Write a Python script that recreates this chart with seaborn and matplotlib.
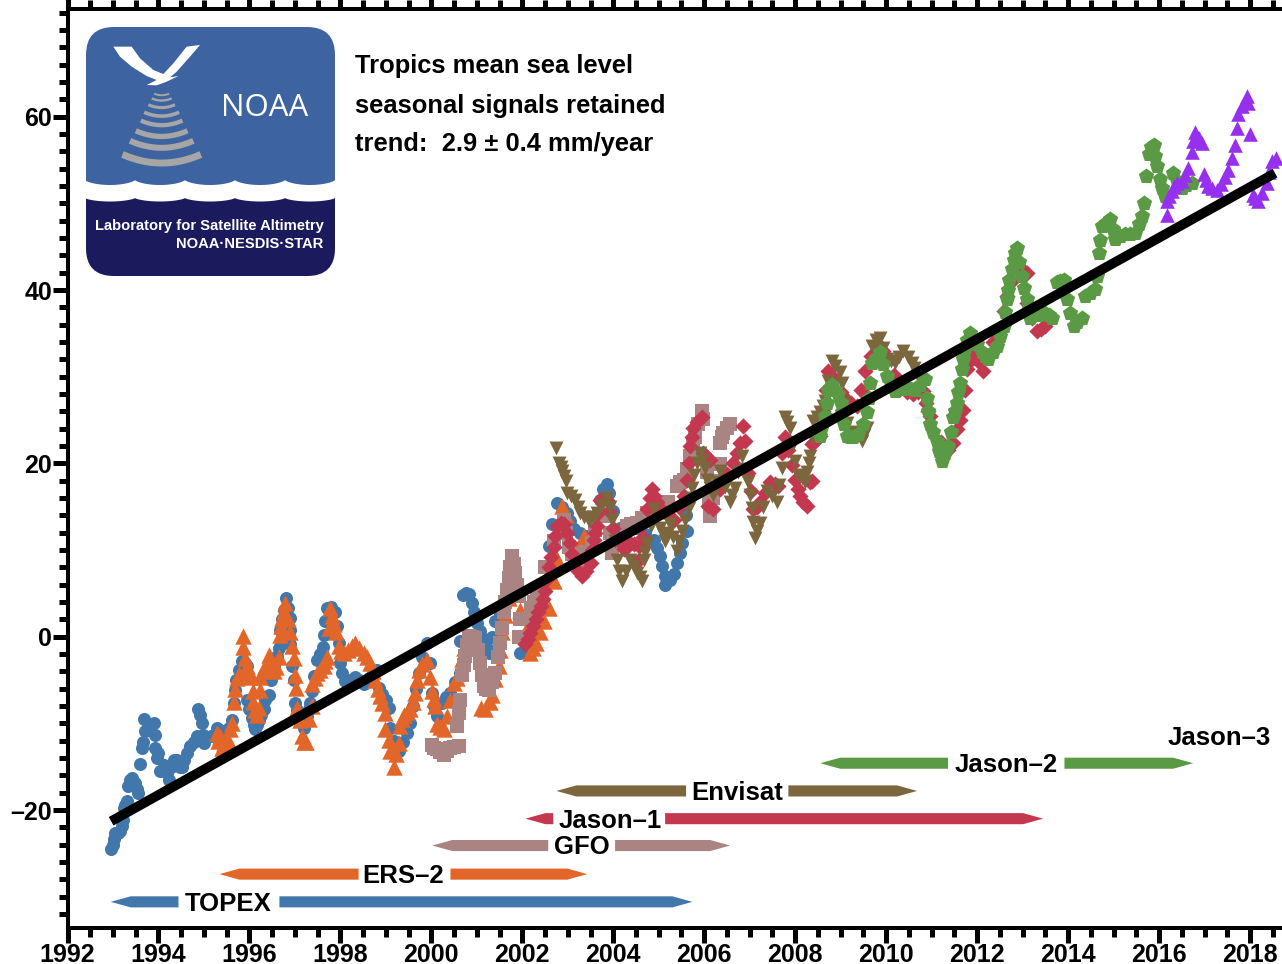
import numpy as np
import matplotlib
matplotlib.use("Agg")
import matplotlib.pyplot as plt
from matplotlib.patches import FancyBboxPatch, Polygon
from matplotlib.ticker import FixedLocator, FixedFormatter
import seaborn as sns

# ---------- data: (year, mm) ----------
topex = [(1992.96,-24.5),(1992.99,-24.0),(1993.02,-23.4),(1993.05,-22.6),(1993.10,-22.6),(1993.16,-22.4),(1993.20,-21.8),(1993.22,-21.2),(1993.24,-19.8),(1993.27,-19.4),(1993.31,-19.0),(1993.34,-17.2),(1993.37,-16.5),(1993.41,-16.3),(1993.45,-16.6),(1993.49,-16.9),(1993.53,-17.6),(1993.56,-18.0),(1993.60,-14.7),(1993.63,-12.8),(1993.66,-12.1),(1993.68,-9.5),(1993.71,-10.9),(1993.78,-10.4),(1993.91,-10.0),(1993.93,-11.3),(1993.93,-12.8),(1993.98,-13.4),(1993.97,-14.0),(1994.04,-15.5),(1994.12,-14.8),(1994.19,-15.7),(1994.23,-16.5),(1994.27,-15.0),(1994.34,-14.2),(1994.41,-14.2),(1994.47,-15.0),(1994.52,-15.0),(1994.56,-14.2),(1994.63,-13.4),(1994.70,-12.6),(1994.78,-12.1),(1994.85,-11.5),(1994.99,-11.3),(1995.01,-12.3),(1994.96,-10.0),(1994.91,-9.0),(1994.86,-8.4),(1995.15,-11.5),(1995.29,-10.5),(1995.36,-10.8),(1995.44,-11.5),(1995.55,-10.5),(1995.62,-9.6),(1995.66,-7.7),(1995.69,-6.1),(1995.71,-5.0),(1995.76,-3.8),(1995.84,-2.8),(1995.90,-3.0),(1995.95,-3.4),(1995.95,-7.3),(1996.00,-8.4),(1996.06,-9.4),(1996.10,-10.2),(1996.13,-10.7),(1996.17,-10.2),(1996.20,-9.6),(1996.26,-9.0),(1996.31,-8.4),(1996.35,-7.3),(1996.42,-6.7),(1996.48,-5.0),(1996.53,-3.4),(1996.60,-2.2),(1996.65,-1.3),(1996.68,0.8),(1996.71,2.0),(1996.75,3.1),(1996.80,4.5),(1996.85,3.3),(1996.90,2.2),(1996.90,0.8),(1996.90,-0.9),(1996.94,-3.4),(1996.97,-5.0),(1997.00,-7.65),(1997.04,-8.5),(1997.08,-9.2),(1997.13,-9.9),(1997.19,-10.5),(1997.23,-9.9),(1997.27,-9.2),(1997.30,-8.4),(1997.34,-7.65),(1997.38,-6.3),(1997.42,-4.5),(1997.49,-2.65),(1997.55,-2.0),(1997.62,-1.2),(1997.63,0.25),(1997.66,1.8),(1997.71,3.3),(1997.80,3.4),(1997.89,2.9),(1997.93,1.2),(1997.96,-0.7),(1998.00,-3.0),(1998.04,-4.2),(1998.11,-5.1),(1998.20,-5.0),(1998.33,-4.6),(1998.42,-5.0),(1998.51,-5.5),(1998.62,-4.8),(1998.72,-4.2),(1998.81,-3.8),(1998.84,-5.9),(1998.92,-6.6),(1999.00,-7.3),(1999.06,-8.2),(1999.10,-10.5),(1999.18,-12.0),(1999.28,-13.2),(1999.38,-12.2),(1999.47,-11.1),(1999.54,-10.0),(1999.60,-8.0),(1999.66,-6.0),(1999.72,-4.2),(1999.80,-2.4),(1999.90,-0.7),(1999.97,-3.0),(2000.01,-6.5),(2000.06,-8.0),(2000.12,-9.2),(2000.23,-7.65),(2000.32,-7.0),(2000.42,-6.5),(2000.53,-5.2),(2000.64,-4.2),(2000.64,-0.5),(2000.69,4.8),(2000.76,5.0),(2000.83,4.9),(2000.89,3.9),(2000.94,2.8),(2001.00,1.6),(2001.07,0.7),(2001.15,-0.3),(2001.20,-1.1),(2001.26,-1.9),(2001.33,0.0),(2001.41,1.8),(2001.50,2.6),(2001.59,3.5),(2001.66,5.2),(2001.70,7.2),(2001.96,-1.9),(2002.05,-1.4),(2002.15,-0.5),(2002.29,0.8),(2002.40,4.0),(2002.50,8.1),(2002.58,10.5),(2002.66,13.0),(2002.76,15.4),(2002.88,15.0),(2002.98,14.3),(2003.05,13.4),(2003.13,12.4),(2003.27,12.0),(2003.42,11.6),(2003.55,13.5),(2003.70,15.8),(2003.78,17.0),(2003.86,17.6),(2003.90,16.6),(2004.00,14.5),(2004.15,12.6),(2004.34,13.1),(2004.50,12.5),(2004.70,11.8),(2004.89,11.2),(2004.96,10.2),(2005.03,9.3),(2005.08,8.2),(2005.14,7.0),(2005.14,6.0),(2005.24,6.6),(2005.33,7.2),(2005.40,8.5),(2005.46,9.7),(2005.51,10.8),(2005.62,12.2),(2005.60,14.1)]

ers2 = [(1995.29,-11.1),(1995.32,-12.0),(1995.35,-11.5),(1995.40,-12.8),(1995.44,-12.3),(1995.50,-12.3),(1995.55,-12.1),(1995.58,-10.7),(1995.62,-10.0),(1995.66,-7.5),(1995.69,-6.0),(1995.73,-4.8),(1995.78,-4.3),(1995.86,-1.2),(1995.86,0.05),(1995.90,-2.5),(1995.95,-3.4),(1995.99,-4.0),(1996.02,-4.6),(1996.08,-6.3),(1996.08,-7.5),(1996.13,-8.5),(1996.17,-9.0),(1996.20,-8.2),(1996.24,-6.1),(1996.24,-4.6),(1996.30,-4.0),(1996.35,-3.4),(1996.42,-2.1),(1996.42,-3.8),(1996.47,-3.5),(1996.53,-4.0),(1996.58,-3.5),(1996.65,-2.3),(1996.68,0.2),(1996.70,1.2),(1996.72,2.2),(1996.76,3.0),(1996.79,3.9),(1996.85,2.0),(1996.90,0.6),(1996.94,-1.1),(1996.97,-2.5),(1997.01,-4.4),(1997.03,-5.9),(1997.05,-8.2),(1997.12,-9.6),(1997.16,-11.5),(1997.20,-12.1),(1997.25,-12.2),(1997.30,-9.5),(1997.38,-8.0),(1997.38,-5.5),(1997.44,-4.8),(1997.49,-4.2),(1997.56,-3.8),(1997.63,-3.4),(1997.67,-2.8),(1997.71,-2.3),(1997.74,1.0),(1997.78,3.3),(1997.82,2.4),(1997.87,1.5),(1997.91,0.6),(1997.96,-1.1),(1998.02,-1.6),(1998.07,-1.9),(1998.17,-1.5),(1998.25,-1.1),(1998.33,-0.7),(1998.42,-1.3),(1998.51,-1.9),(1998.58,-2.4),(1998.66,-3.0),(1998.72,-4.0),(1998.77,-5.0),(1998.82,-6.0),(1998.88,-6.9),(1998.91,-7.65),(1998.97,-8.8),(1998.99,-10.7),(1999.06,-11.9),(1999.10,-13.2),(1999.17,-15.0),(1999.23,-13.5),(1999.28,-12.3),(1999.30,-10.3),(1999.35,-9.5),(1999.39,-9.0),(1999.46,-8.7),(1999.54,-8.4),(1999.60,-7.5),(1999.65,-6.5),(1999.68,-5.0),(1999.72,-3.8),(1999.80,-3.2),(1999.90,-2.65),(1999.97,-4.6),(2000.01,-6.3),(2000.05,-7.2),(2000.09,-8.0),(2000.12,-10.1),(2000.20,-10.4),(2000.27,-10.7),(2000.34,-9.2),(2000.42,-7.3),(2000.49,-5.3),(2000.57,-4.8),(2000.64,-4.2),(2000.68,-2.6),(2000.71,-1.3),(2001.10,-8.2),(2001.19,-8.4),(2001.28,-7.5),(2001.33,-6.7),(2001.41,-4.9),(2001.48,-3.4),(2001.52,-1.5),(2001.55,0.6),(2001.62,2.5),(2001.70,4.5),(2001.88,5.6),(2001.96,3.1),(2002.05,0.5),(2002.18,-1.9),(2002.23,-1.3),(2002.29,-0.7),(2002.38,0.5),(2002.47,1.8),(2002.58,3.3),(2002.69,6.4),(2002.76,9.0),(2002.82,13.0),(2002.87,15.1),(2002.95,14.0),(2003.20,10.1),(2003.28,10.8),(2003.35,11.6)]

gfo = [(2000.01,-12.5),(2000.06,-12.8),(2000.12,-13.0),(2000.20,-13.3),(2000.27,-13.6),(2000.35,-13.2),(2000.42,-12.8),(2000.50,-12.7),(2000.60,-12.6),(2000.56,-10.3),(2000.60,-8.8),(2000.64,-7.3),(2000.67,-4.4),(2000.71,-3.3),(2000.75,-2.2),(2000.79,-1.0),(2000.82,0.06),(2000.90,0.0),(2000.97,-0.1),(2001.02,-1.5),(2001.08,-3.0),(2001.12,-4.4),(2001.15,-5.7),(2001.20,-6.0),(2001.26,-6.1),(2001.34,-5.2),(2001.41,-4.2),(2001.47,-2.4),(2001.52,-0.7),(2001.55,1.0),(2001.59,2.8),(2001.62,4.0),(2001.66,5.4),(2001.70,6.8),(2001.73,8.0),(2001.77,9.3),(2001.81,8.4),(2001.85,7.4),(2001.89,6.0),(2001.92,4.7),(2001.96,2.0),(2001.92,0.0),(2002.03,2.0),(2002.10,2.0),(2002.20,3.3),(2002.26,4.0),(2002.32,4.9),(2002.50,8.0),(2002.70,11.0),(2002.91,13.5),(2002.97,12.0),(2003.02,10.4),(2003.10,9.6),(2003.18,9.2),(2003.27,8.9),(2003.40,9.8),(2003.53,10.8),(2003.60,12.3),(2003.68,13.9),(2003.77,14.0),(2003.86,13.9),(2003.93,12.0),(2003.97,9.7),(2004.10,11.0),(2004.30,12.8),(2004.40,13.0),(2004.52,13.1),(2004.63,13.7),(2004.74,14.3),(2005.20,15.5),(2005.40,17.4),(2005.47,17.8),(2005.55,18.1),(2005.62,19.4),(2005.69,20.8),(2005.75,22.0),(2005.80,23.1),(2005.87,24.5),(2005.95,26.0),(2005.98,25.1),(2006.05,19.0),(2006.10,15.5),(2006.13,13.9),(2006.20,16.0),(2006.28,18.0),(2006.35,19.9),(2006.35,22.4),(2006.38,23.0),(2006.42,23.5),(2006.50,24.1),(2006.57,24.5)]

jason1 = [(2002.07,-0.9),(2002.12,-0.3),(2002.18,0.4),(2002.23,1.2),(2002.29,2.0),(2002.35,2.8),(2002.40,3.5),(2002.45,4.4),(2002.50,5.3),(2002.54,6.7),(2002.58,8.1),(2002.63,9.2),(2002.69,10.4),(2002.72,11.6),(2002.76,12.8),(2002.84,13.1),(2002.91,13.0),(2002.98,12.0),(2003.05,10.8),(2003.09,9.6),(2003.13,8.5),(2003.22,7.6),(2003.31,7.0),(2003.40,7.6),(2003.50,8.5),(2003.54,10.0),(2003.57,11.2),(2003.60,12.0),(2003.64,12.8),(2003.67,14.3),(2003.71,15.8),(2003.78,15.9),(2003.86,15.8),(2003.90,14.5),(2003.99,12.6),(2004.10,11.2),(2004.23,10.1),(2004.30,10.4),(2004.37,10.8),(2004.46,10.7),(2004.56,10.5),(2004.56,8.9),(2004.65,11.5),(2004.74,14.7),(2004.80,16.0),(2004.85,17.0),(2004.90,16.2),(2004.96,15.5),(2005.10,14.5),(2005.20,14.0),(2005.33,13.5),(2005.45,15.0),(2005.55,16.2),(2005.62,18.1),(2005.66,20.1),(2005.69,22.0),(2005.73,23.0),(2005.76,24.1),(2005.85,24.8),(2005.95,25.3),(2005.98,21.2),(2006.03,20.8),(2006.09,15.1),(2006.13,20.4),(2006.20,14.7),(2006.35,17.0),(2006.50,18.8),(2006.64,20.1),(2006.72,21.2),(2006.79,22.4),(2006.86,24.3),(2006.90,22.6),(2006.97,18.9),(2007.03,16.8),(2007.08,14.7),(2007.15,15.0),(2007.23,15.5),(2007.34,16.6),(2007.45,17.8),(2007.55,17.6),(2007.63,17.4),(2007.71,21.2),(2007.78,23.1),(2007.85,21.5),(2007.92,19.8),(2008.00,18.1),(2008.06,17.1),(2008.11,16.2),(2008.18,15.6),(2008.26,15.1),(2008.33,17.8),(2008.37,18.0),(2008.37,22.2),(2008.40,22.4),(2008.51,23.5),(2008.55,23.2),(2008.62,26.0),(2008.68,28.5),(2008.73,30.7),(2008.85,29.8),(2009.00,28.2),(2009.10,27.6),(2009.23,27.0),(2009.36,26.6),(2009.45,28.5),(2009.54,30.7),(2009.67,32.4),(2009.80,33.9),(2009.93,33.0),(2010.05,32.0),(2010.18,30.2),(2010.31,28.6),(2010.45,28.2),(2010.60,28.0),(2010.71,28.2),(2010.82,28.4),(2010.88,27.0),(2010.93,26.1),(2010.97,25.5),(2011.20,22.5),(2011.35,21.5),(2011.48,22.4),(2011.55,24.0),(2011.63,25.0),(2011.70,26.2),(2011.74,28.5),(2011.77,30.9),(2011.85,31.8),(2011.92,32.8),(2012.02,31.8),(2012.14,30.7),(2012.35,34.0),(2012.58,37.6),(2012.65,39.3),(2012.76,41.0),(2012.87,42.8),(2012.98,42.4),(2013.09,42.0),(2013.09,38.5),(2013.20,36.8),(2013.31,35.3),(2013.40,35.5),(2013.49,35.9)]

envisat = [(2002.75,21.8),(2002.80,20.1),(2002.84,19.6),(2002.87,19.1),(2002.91,18.5),(2002.95,18.0),(2002.98,16.6),(2003.07,16.2),(2003.16,15.8),(2003.22,15.0),(2003.27,14.3),(2003.36,13.8),(2003.46,13.3),(2003.55,13.8),(2003.64,14.3),(2003.75,15.2),(2003.86,16.0),(2003.92,15.0),(2003.97,13.5),(2004.03,11.0),(2004.08,8.9),(2004.13,7.6),(2004.19,6.4),(2004.28,7.6),(2004.37,8.9),(2004.45,8.2),(2004.52,7.4),(2004.58,6.9),(2004.63,6.4),(2004.67,8.9),(2004.70,9.8),(2004.74,10.8),(2004.82,12.8),(2004.89,14.7),(2004.96,13.7),(2005.03,12.6),(2005.09,11.8),(2005.14,11.0),(2005.20,12.0),(2005.25,13.0),(2005.32,11.5),(2005.40,9.9),(2005.45,11.0),(2005.51,12.2),(2005.58,13.5),(2005.66,14.9),(2005.70,16.0),(2005.73,17.2),(2005.77,18.7),(2005.84,20.0),(2005.91,21.2),(2005.96,20.4),(2006.02,19.5),(2006.06,18.1),(2006.13,17.2),(2006.20,16.4),(2006.28,17.8),(2006.35,19.1),(2006.46,17.3),(2006.57,15.5),(2006.62,16.3),(2006.68,17.2),(2006.75,19.0),(2006.83,20.8),(2006.90,19.3),(2006.97,17.8),(2007.01,16.4),(2007.05,14.9),(2007.08,13.2),(2007.12,11.4),(2007.17,12.2),(2007.23,13.1),(2007.30,15.0),(2007.38,16.8),(2007.49,16.2),(2007.60,15.6),(2007.65,17.5),(2007.71,19.5),(2007.78,25.4),(2007.83,24.8),(2007.89,24.1),(2007.95,22.2),(2008.00,20.3),(2008.07,18.7),(2008.15,18.3),(2008.22,17.9),(2008.26,19.0),(2008.30,20.1),(2008.33,20.8),(2008.37,23.0),(2008.40,24.9),(2008.48,25.4),(2008.55,25.9),(2008.61,26.6),(2008.66,27.2),(2008.72,29.5),(2008.80,31.8),(2008.88,31.2),(2008.99,30.5),(2009.03,29.3),(2009.08,27.0),(2009.14,24.7),(2009.30,23.6),(2009.47,22.6),(2009.52,23.3),(2009.58,24.1),(2009.69,33.5),(2009.78,34.2),(2009.87,34.5),(2009.94,33.3),(2010.01,32.0),(2010.10,31.8),(2010.20,31.6),(2010.29,32.3),(2010.38,33.0),(2010.47,32.3),(2010.56,31.6),(2010.62,31.0),(2010.67,30.3)]

jason2 = [(2008.55,23.2),(2008.60,24.3),(2008.66,25.5),(2008.70,27.0),(2008.73,28.5),(2008.80,29.1),(2008.87,28.5),(2008.95,28.0),(2009.00,27.0),(2009.03,25.9),(2009.08,24.6),(2009.14,23.2),(2009.20,23.0),(2009.27,23.1),(2009.39,23.4),(2009.48,24.5),(2009.58,25.9),(2009.62,27.5),(2009.65,29.3),(2009.69,31.6),(2009.78,32.2),(2009.87,32.8),(2009.94,31.5),(2010.01,30.1),(2010.10,29.2),(2010.20,28.4),(2010.32,28.6),(2010.45,28.7),(2010.55,28.6),(2010.64,28.5),(2010.75,29.1),(2010.86,29.7),(2010.89,27.6),(2010.93,26.0),(2010.97,24.5),(2011.04,23.6),(2011.11,22.6),(2011.16,21.4),(2011.22,20.3),(2011.30,21.2),(2011.37,22.0),(2011.43,23.6),(2011.48,25.3),(2011.52,26.1),(2011.55,27.0),(2011.58,28.2),(2011.62,29.3),(2011.66,30.9),(2011.69,32.0),(2011.73,33.2),(2011.78,34.2),(2011.84,35.1),(2011.92,34.4),(2012.00,33.8),(2012.10,32.8),(2012.17,32.4),(2012.25,32.0),(2012.34,32.8),(2012.43,33.6),(2012.50,34.7),(2012.58,35.9),(2012.62,37.5),(2012.65,39.0),(2012.68,40.0),(2012.71,41.2),(2012.76,42.4),(2012.80,43.5),(2012.84,44.3),(2012.87,44.9),(2012.92,43.2),(2012.98,41.6),(2013.04,40.3),(2013.09,39.0),(2013.13,37.9),(2013.17,36.8),(2013.33,37.1),(2013.49,37.4),(2013.57,37.1),(2013.64,36.8),(2013.75,40.9),(2013.82,41.1),(2013.90,41.2),(2013.97,39.0),(2014.05,37.4),(2014.12,35.9),(2014.20,36.3),(2014.30,36.8),(2014.37,39.3),(2014.48,39.7),(2014.59,40.1),(2014.63,41.6),(2014.67,44.3),(2014.70,45.8),(2014.74,47.4),(2014.83,47.8),(2014.92,48.2),(2014.98,47.0),(2015.03,45.9),(2015.14,46.2),(2015.25,46.5),(2015.36,46.5),(2015.47,46.6),(2015.55,47.6),(2015.62,48.6),(2015.66,50.1),(2015.71,53.2),(2015.77,55.7),(2015.82,56.5),(2015.88,56.8),(2015.92,55.5),(2015.96,54.3),(2016.02,52.8),(2016.07,51.8),(2016.13,50.9),(2016.31,53.5),(2016.40,52.6),(2016.50,51.8),(2016.60,52.1),(2016.72,52.4)]

jason3 = [(2016.17,48.7),(2016.17,50.3),(2016.22,50.9),(2016.28,51.4),(2016.33,52.0),(2016.39,52.4),(2016.50,52.6),(2016.57,53.3),(2016.64,54.1),(2016.72,55.9),(2016.75,57.2),(2016.79,58.2),(2016.87,57.6),(2016.94,57.0),(2016.99,53.4),(2017.03,52.7),(2017.08,52.0),(2017.17,51.8),(2017.27,51.6),(2017.36,52.3),(2017.45,53.0),(2017.52,53.9),(2017.60,55.3),(2017.66,56.8),(2017.71,58.7),(2017.74,60.3),(2017.82,61.2),(2017.88,61.8),(2017.93,62.4),(2017.96,61.6),(2018.00,58.0),(2018.07,51.0),(2018.12,50.6),(2018.18,50.3),(2018.26,51.2),(2018.37,52.4),(2018.42,53.6),(2018.48,54.9),(2018.58,55.3)]

trend_t = [1992.96, 2018.55]
trend_v = [-21.3, 53.5]

mission_names = ["TOPEX", "ERS\u20132", "GFO", "Jason\u20131", "Envisat", "Jason\u20132"]
mission_start = [1992.95, 1995.34, 2000.02, 2002.07, 2002.75, 2008.55]
mission_end   = [2005.74, 2003.43, 2006.57, 2013.45, 2010.68, 2016.75]
mission_gap_a = [1994.44, 1998.40, 2002.57, 2002.68, 2005.60, 2011.36]
mission_gap_b = [1996.66, 2000.42, 2004.04, 2005.14, 2007.85, 2013.92]
mission_row   = [-30.6, -27.4, -24.1, -21.0, -17.8, -14.6]
mission_label_t = [1995.54, 1999.38, 2003.30, 2003.93, 2006.73, 2012.64]
j3_name, j3_t, j3_row = "Jason\u20133", 2017.32, -11.5

xticks_major = list(range(1992, 2019, 2))
xtick_labels = [str(v) for v in xticks_major]
yticks_major = [-20, 0, 20, 40, 60]
ytick_labels = ["\u201320", "0", "20", "40", "60"]

title_lines = ["Tropics mean sea level", "seasonal signals retained", "trend:  2.9 \u00b1 0.4 mm/year"]

BLUE, ORANGE, ROSE, RED, BROWN, GREEN, PURPLE = "#4177AA", "#E2662A", "#AA8483", "#C3384F", "#7C663E", "#5B9A45", "#9630EE"
mission_colors = [BLUE, ORANGE, ROSE, RED, BROWN, GREEN]

# ---------- figure ----------
sns.set_theme(style="ticks")
plt.rcParams["font.family"] = ["Liberation Sans", "DejaVu Sans"]
W, H = 1282, 964
fig = plt.figure(figsize=(W / 100, H / 100), dpi=100, facecolor="white")
L, R, T, B = 67.5, 1282, 8.5, 928
ax = fig.add_axes([L / W, 1 - B / H, (R - L) / W, (B - T) / H])
ax.set_xlim(1992, 1992 + (R - 67) / 45.5)
ax.set_ylim((636.7 - B) / 8.665, (636.7 - T) / 8.665)

series = [
    (topex, "o", 88, BLUE),
    (ers2, "^", 140, ORANGE),
    (gfo, "s", 88, ROSE),
    (jason1, "D", 68, RED),
    (envisat, "v", 100, BROWN),
    (jason2, "p", 135, GREEN),
    (jason3, "^", 110, PURPLE),
]
for pts, m, s, c in series:
    t, v = zip(*pts)
    sns.scatterplot(x=list(t), y=list(v), marker=m, s=s, color=c, linewidth=0, ax=ax, zorder=3, legend=False)

sns.lineplot(x=trend_t, y=trend_v, color="black", linewidth=7, ax=ax, zorder=4,
             solid_capstyle="butt", errorbar=None, sort=False)

# mission bars
half_h = 0.64
head = 0.44
for name, a, b, ga, gb, row, lt, col in zip(mission_names, mission_start, mission_end, mission_gap_a,
                                            mission_gap_b, mission_row, mission_label_t, mission_colors):
    ax.add_patch(Polygon([[a, row], [a + head, row + half_h], [ga, row + half_h], [ga, row - half_h], [a + head, row - half_h]],
                         closed=True, facecolor=col, edgecolor="none", zorder=2))
    ax.add_patch(Polygon([[gb, row + half_h], [b - head, row + half_h], [b, row], [b - head, row - half_h], [gb, row - half_h]],
                         closed=True, facecolor=col, edgecolor="none", zorder=2))
    ax.annotate(name, (lt, row), xytext=(0, -1.4), textcoords="offset points", ha="center", va="center",
                fontsize=18.5, fontweight="bold", color="black", zorder=5)
ax.annotate(j3_name, (j3_t, j3_row), xytext=(0, -1.4), textcoords="offset points", ha="center", va="center",
            fontsize=18.5, fontweight="bold", color="black", zorder=5)

# axes
for side in ["left", "bottom", "top"]:
    ax.spines[side].set_visible(True)
    ax.spines[side].set_linewidth(2.9)
    ax.spines[side].set_color("black")
ax.spines["right"].set_visible(False)
ax.xaxis.set_major_locator(FixedLocator(xticks_major))
ax.xaxis.set_major_formatter(FixedFormatter(xtick_labels))
ax.xaxis.set_minor_locator(FixedLocator(np.arange(1992, 2019, 0.5)))
ax.yaxis.set_major_locator(FixedLocator(yticks_major))
ax.yaxis.set_major_formatter(FixedFormatter(ytick_labels))
ax.yaxis.set_minor_locator(FixedLocator(np.arange(-32, 73, 2)))
ax.tick_params(axis="both", which="major", direction="out", length=10.5, width=3.6, color="black", top=True, pad=0.5)
ax.tick_params(axis="both", which="minor", direction="out", length=6.5, width=3.6, color="black", top=True)
for lab in ax.get_xticklabels() + ax.get_yticklabels():
    lab.set_fontsize(18)
    lab.set_fontweight("bold")
    lab.set_color("black")
ax.tick_params(axis="x", which="both", labeltop=False)

# title block
for yy, line in zip([66.5, 105.5, 143.5], title_lines):
    fig.text(355 / W, 1 - yy / H, line, ha="left", va="center", fontsize=18.35, fontweight="bold", color="black")

# ---------- logo (decoration, drawn in pixel space) ----------
ov = fig.add_axes([0, 0, 1, 1], facecolor="none", zorder=6)
ov.set_xlim(0, W); ov.set_ylim(H, 0); ov.axis("off")
box = FancyBboxPatch((86 + 28, 27 + 28), 249 - 56, 249 - 56, boxstyle="round,pad=28,rounding_size=28",
                     facecolor="#3D64A0", edgecolor="none")
ov.add_patch(box)

def scallop(y_peak, y_dip):
    xs = np.linspace(86, 335, 400)
    period = 50.0
    ph = ((xs - 135) % period) / period
    return xs, y_peak + (y_dip - y_peak) * (4 * ph * (1 - ph)) ** 0.7

xs, top = scallop(180, 185)
xs2, bot = scallop(198, 201.5)
white = Polygon(np.r_[np.c_[xs, top], np.c_[xs[::-1], np.full(400, 290)]], closed=True, facecolor="white", edgecolor="none")
navy = Polygon(np.r_[np.c_[xs2, bot], np.c_[xs2[::-1], np.full(400, 290)]], closed=True, facecolor="#1A1A5C", edgecolor="none")
for p in (white, navy):
    ov.add_patch(p)
    p.set_clip_path(box)

bird = np.array([(340,140),(395,140),(420,175),(460,210),(490,222),(520,190),(560,140),(600,135),(570,170),(530,215),(510,232),(535,228),(500,245),(470,256),(440,255),(470,240),(440,228),(395,200),(360,170)]) / 3.0
ov.add_patch(Polygon(bird, closed=True, facecolor="white", edgecolor="none"))

for y0, wid, lw in [(283, 45, 1.4), (298, 60, 1.7), (318, 80, 2.2), (342, 105, 2.6), (368, 125, 3.1), (400, 155, 3.8), (432, 190, 4.3), (475, 235, 5.0)]:
    dx = np.linspace(-wid / 2, wid / 2, 40)
    yy = y0 + wid * 0.11 * (1 - (dx / (wid / 2)) ** 2) - wid * 0.05
    ov.plot((485 + dx) / 3, yy / 3, color="#A6A6A6", lw=lw, solid_capstyle="butt")

ov.text(265, 108.5, "NOAA", color="white", fontsize=22.5, ha="center", va="center", family="Open Sans")
ov.text(323.5, 226, "Laboratory for Satellite Altimetry", color="white", fontsize=10.65, fontweight="bold", ha="right", va="center")
ov.text(323.5, 243.5, "NOAA\u00b7NESDIS\u00b7STAR", color="white", fontsize=10.65, fontweight="bold", ha="right", va="center")

fig.savefig("out.png", dpi=100, facecolor="white")
